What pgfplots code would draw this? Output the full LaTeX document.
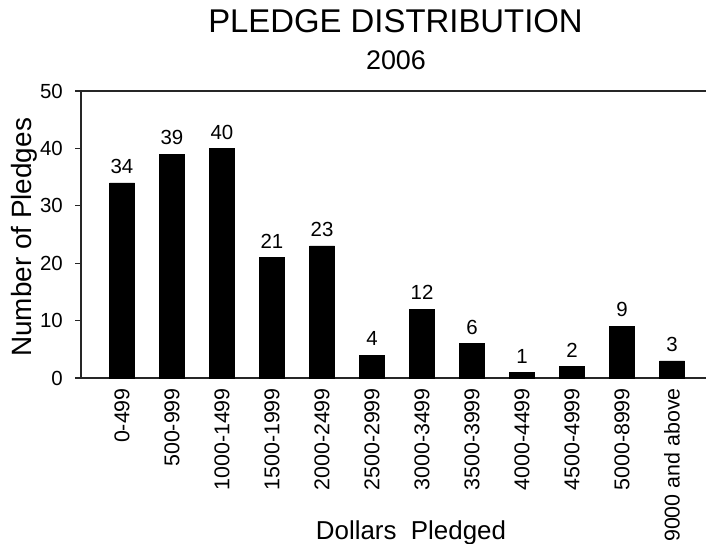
\documentclass[border=0pt]{standalone}
\usepackage{pgfplots}
\pgfplotsset{compat=1.18}
\usepackage{fontspec}
\setmainfont{Liberation Sans}
\begin{document}
\begin{tikzpicture}
\path[use as bounding box] (0,0) rectangle (706bp,544bp);
\node[anchor=base, font=\fontsize{33}{33}\selectfont] at (395.5bp,511bp) {PLEDGE DISTRIBUTION};
\node[anchor=base, font=\fontsize{27}{27}\selectfont] at (396bp,474bp) {2006};
\begin{axis}[
  at={(81bp,166bp)}, anchor=south west,
  scale only axis, width=625bp, height=287bp,
  xmin=-0.82, xmax=11.68, ymin=0, ymax=50,
  axis x line*=bottom, axis y line*=left,
  axis line style={line width=1.3bp, black!85},
  ytick={0,10,20,30,40,50},
  xtick={0,1,2,3,4,5,6,7,8,9,10,11},
  xticklabels={0-499,500-999,1000-1499,1500-1999,2000-2499,2500-2999,3000-3499,3500-3999,4000-4499,4500-4999,5000-8999,9000 and above},
  xtick style={draw=none},
  ytick style={line width=1.3bp, black!85},
  tick align=outside, major tick length=6bp,
  /pgf/number format/assume math mode=true,
  yticklabel style={font=\fontsize{20.5}{20.5}\selectfont, inner sep=0pt, xshift=-12bp},
  xticklabel style={font=\fontsize{21.5}{21.5}\selectfont, rotate=90, anchor=east, inner sep=0pt},
  xticklabel shift=4bp,
  ylabel={Number of Pledges},
  ylabel style={font=\fontsize{28}{28}\selectfont, at={(axis description cs:-0.09,0.49)}, anchor=center, inner sep=0pt, rotate=0},
  xlabel={Dollars\ \ Pledged},
  xlabel style={font=\fontsize{26}{26}\selectfont, at={(axis description cs:0.528,-0.564)}, anchor=base, inner sep=0pt},
  ybar, bar width=25bp,
  nodes near coords,
  nodes near coords style={font=\fontsize{20.5}{20.5}\selectfont, anchor=south, inner sep=0pt, yshift=9bp},
  clip=false,
]
\addplot[fill=black, draw=black] coordinates {
(0,34) (1,39) (2,40) (3,21) (4,23) (5,4) (6,12) (7,6) (8,1) (9,2) (10,9) (11,3)
};
\draw[line width=1.3bp, black!85] (rel axis cs:0,1) -- (rel axis cs:1,1);
\end{axis}
\end{tikzpicture}
\end{document}
